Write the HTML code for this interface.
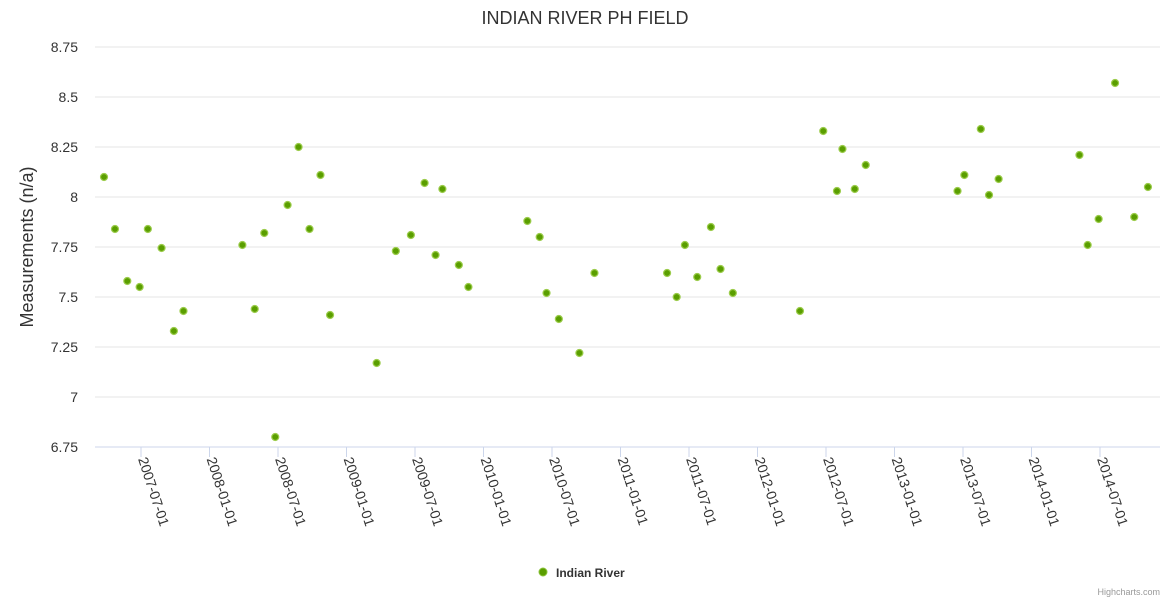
<!DOCTYPE html>
<html><head><meta charset="utf-8"><style>
body{margin:0;background:#fff;font-family:"Liberation Sans",sans-serif}
svg text{font-family:"Liberation Sans",sans-serif}
</style></head><body>
<svg id="chart" width="1170" height="600">
<text x="585" y="24" text-anchor="middle" font-size="18" fill="#333">INDIAN RIVER PH FIELD</text>
<text transform="translate(33,247) rotate(-90)" text-anchor="middle" font-size="18" fill="#333">Measurements (n/a)</text>
<g id="grid"></g><g id="xaxis"></g><g id="pts"></g>
<g>
<circle cx="543" cy="572" r="4" fill="#5a9e00" stroke="#8cc43c" stroke-width="1"/>
<text x="556" y="577" font-size="12" font-weight="bold" fill="#333">Indian River</text></g>
<text x="1160" y="595" text-anchor="end" font-size="9" fill="#999">Highcharts.com</text>
</svg>
<script>
const years=[2007.23,2007.31,2007.40,2007.49,2007.55,2007.65,2007.74,2007.81,2008.24,2008.33,2008.40,2008.48,2008.57,2008.65,2008.73,2008.81,2008.88,2009.22,2009.36,2009.47,2009.57,2009.65,2009.70,2009.82,2009.89,2010.32,2010.41,2010.46,2010.55,2010.70,2010.81,2011.34,2011.41,2011.47,2011.56,2011.66,2011.73,2011.82,2012.31,2012.48,2012.58,2012.62,2012.71,2012.79,2013.46,2013.51,2013.63,2013.69,2013.76,2014.35,2014.41,2014.49,2014.61,2014.75,2014.85];
const values=[8.10,7.84,7.58,7.55,7.84,7.745,7.33,7.43,7.76,7.44,7.82,6.80,7.96,8.25,7.84,8.11,7.41,7.17,7.73,7.81,8.07,7.71,8.04,7.66,7.55,7.88,7.80,7.52,7.39,7.22,7.62,7.62,7.50,7.76,7.60,7.85,7.64,7.52,7.43,8.33,8.03,8.24,8.04,8.16,8.03,8.11,8.34,8.01,8.09,8.21,7.76,7.89,8.57,7.90,8.05];
const yTicks=[6.75,7,7.25,7.5,7.75,8,8.25,8.5,8.75];
const yTickLabels=["6.75","7","7.25","7.5","7.75","8","8.25","8.5","8.75"];
const xTicks=[2007.5,2008,2008.5,2009,2009.5,2010,2010.5,2011,2011.5,2012,2012.5,2013,2013.5,2014,2014.5];
const xTickLabels=["2007-07-01","2008-01-01","2008-07-01","2009-01-01","2009-07-01","2010-01-01","2010-07-01","2011-01-01","2011-07-01","2012-01-01","2012-07-01","2013-01-01","2013-07-01","2014-01-01","2014-07-01"];
const NS="http://www.w3.org/2000/svg";
const X=v=>141+(v-2007.5)*137;
const Y=v=>447-(v-6.75)*200;
function mk(tag,attrs,parent,txt){const e=document.createElementNS(NS,tag);for(const k in attrs)e.setAttribute(k,attrs[k]);if(txt!==undefined)e.textContent=txt;parent.appendChild(e);return e;}
const grid=document.getElementById('grid');
yTicks.forEach((t,i)=>{
  const l=mk('line',{x1:95,x2:1160,y1:Y(t),y2:Y(t),stroke:t===6.75?'#ccd6eb':'#e6e6e6','stroke-width':1},grid);
  
  
  const tx=mk('text',{x:78,y:Y(t)+5,'text-anchor':'end','font-size':14,fill:'#333'},grid,yTickLabels[i]);
  
  
});
const xa=document.getElementById('xaxis');
xTicks.forEach((t,i)=>{
  const l=mk('line',{x1:X(t),x2:X(t),y1:447,y2:457,stroke:'#ccd6eb'},xa);
  
  
  const tx=mk('text',{transform:`translate(${X(t)-3},${459}) rotate(72)`,'font-size':14,fill:'#333'},xa,xTickLabels[i]);
  
  
});
const pts=document.getElementById('pts');
years.forEach((yr,i)=>{
  const c=mk('circle',{cx:X(yr),cy:Y(values[i]),r:3.5,fill:'#5a9e00',stroke:'#9ccc4c','stroke-width':1.2},pts);
  
  
});
</script>
</body></html>
